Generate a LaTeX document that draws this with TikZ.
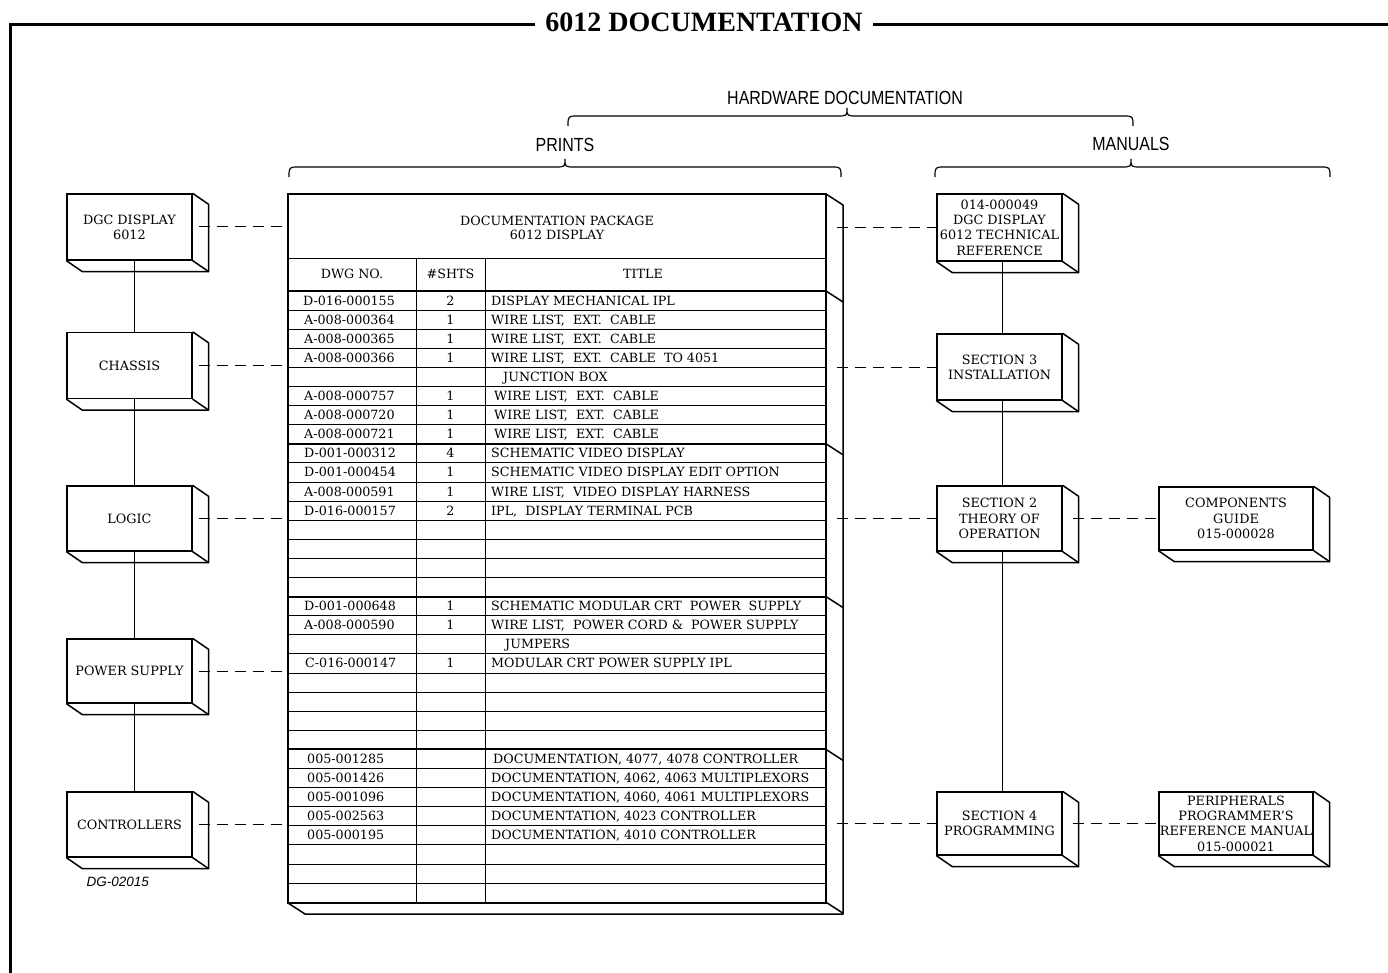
\documentclass[tikz,border=0pt]{standalone}
\usepackage{fontspec}
\usepackage{graphicx}
\setmainfont{DejaVu Serif}
\newfontfamily\ttlfont{Liberation Serif}
\newfontfamily\lblfont{Liberation Sans}
\usetikzlibrary{calc}
\newcommand\bxfont{\fontsize{12.8}{15.3}\selectfont}
\newcommand\tbfont{\fontsize{12.7}{14.5}\selectfont}
\newcommand\sansl[1]{\scalebox{0.84}[1]{\lblfont\fontsize{19}{21}\selectfont #1}}
\newcommand\depthbox[1]{%
  \draw[depthline] (#1.north east) -- ++(16,11) -- ($(#1.south east)+(16,11)$) -- ($(#1.south west)+(16,11)$) -- (#1.south west);
  \draw[depthline] (#1.south east) -- ++(16,11);}
\newcommand\trow[6]{%
  \node[tcell,anchor=west] (d#1) at (#2,{300.55+19.1*#1}) {#3};
  \node[tcell] (s#1) at (450.5,{300.55+19.1*#1}) {#4};
  \node[tcell,anchor=west] (t#1) at (#5,{300.55+19.1*#1}) {#6};}
\newcommand\hbrace[4]{%
  \draw[bracel] (#1,#4+10) .. controls (#1,#4) .. (#1+10,#4) -- (#2-10,#4) .. controls (#2,#4) .. (#2,#4-8) .. controls (#2,#4) .. (#2+10,#4) -- (#3-10,#4) .. controls (#3,#4) .. (#3,#4+10);}
\begin{document}
\begin{tikzpicture}[x=1pt,y=-1pt,
  tline/.style={line width=0.9pt},
  thickrow/.style={line width=2pt},
  depthline/.style={line width=1.5pt, line join=round},
  dbox/.style={draw, line width=1.3pt, inner sep=0pt, align=center, font=\bxfont},
  dashline/.style={line width=1pt, dash pattern=on 11pt off 7pt},
  conn/.style={line width=1pt},
  tcell/.style={inner sep=0pt, text height=9pt, text depth=0pt, font=\tbfont},
  bracel/.style={line width=1.2pt},
  frameline/.style={line width=3pt, line join=miter}]
\useasboundingbox (0,0) rectangle (1388,973);
\fill[white] (0,0) rectangle (1388,973);

% frame and title
\node (title) at (704,22) {\ttlfont\bfseries\fontsize{28}{30}\selectfont 6012 DOCUMENTATION};
\draw[frameline] (535,25) -- (10,25) -- (10,973);
\draw[frameline] (873,25) -- (1388,25);

% braces and labels
\node (hw) at (845,98) {\sansl{HARDWARE DOCUMENTATION}};
\hbrace{568}{847}{1133}{116}
\node (prints) at (565,145) {\sansl{PRINTS}};
\hbrace{289}{565}{841}{167}
\node (manuals) at (1131,144) {\sansl{MANUALS}};
\hbrace{935}{1131}{1330}{167}

% left boxes
\node[dbox, minimum width=125pt, minimum height=66pt] (dgc) at (129.5,227) {DGC DISPLAY\\6012};
\node[dbox, minimum width=125pt, minimum height=66pt] (chassis) at (129.5,365.5) {CHASSIS};
\node[dbox, minimum width=125pt, minimum height=65pt] (logic) at (129.5,518.5) {LOGIC};
\node[dbox, minimum width=125pt, minimum height=64pt] (psu) at (129.5,671) {POWER SUPPLY};
\node[dbox, minimum width=125pt, minimum height=65pt] (ctrl) at (129.5,824.5) {CONTROLLERS};
\foreach \n in {dgc,chassis,logic,psu,ctrl} {\depthbox{\n}}
\node[anchor=west] (dg) at (83,882) {\lblfont\itshape\fontsize{13.5}{15}\selectfont DG-02015};

% right boxes
\node[dbox, minimum width=125pt, minimum height=67pt] (m014) at (999.5,227.5) {014-000049\\DGC DISPLAY\\6012 TECHNICAL\\REFERENCE};
\node[dbox, minimum width=125pt, minimum height=66pt] (sec3) at (999.5,367) {SECTION 3\\INSTALLATION};
\node[dbox, minimum width=125pt, minimum height=65pt] (sec2) at (999.5,518.5) {SECTION 2\\THEORY OF\\OPERATION};
\node[dbox, minimum width=125pt, minimum height=63pt] (sec4) at (999.5,823.5) {SECTION 4\\PROGRAMMING};
\node[dbox, minimum width=154pt, minimum height=63pt] (comp) at (1236,518.5) {COMPONENTS\\GUIDE\\015-000028};
\node[dbox, minimum width=154pt, minimum height=63pt] (peri) at (1236,823.5) {PERIPHERALS\\PROGRAMMER'S\\REFERENCE MANUAL\\015-000021};
\foreach \n in {m014,sec3,sec2,sec4,comp,peri} {\depthbox{\n}}

% table
\node[draw, line width=1.3pt, minimum width=538pt, minimum height=709pt, inner sep=0pt] (tbl) at (557,548.5) {};
\node[align=center, font=\tbfont, inner sep=0pt] (pkg) at (557,228) {DOCUMENTATION PACKAGE\\6012 DISPLAY};
\draw[tline] (288,258) -- (826,258);
\foreach \k in {1,...,31} {\draw[tline] (288,{291+19.1*\k}) -- (826,{291+19.1*\k});}
\foreach \k in {0,8,16,24} {\draw[thickrow] (288,{291+19.1*\k}) -- (826,{291+19.1*\k});}
\draw[tline] (416,258) -- (416,903);
\draw[tline] (485,258) -- (485,903);
\draw[depthline] (826,194) -- (843,205) -- (843,914) -- (305,914) -- (288,903);
\foreach \k in {0,8,16,24,32} {\draw[depthline] (826,{291+19.1*\k}) -- (843,{302+19.1*\k});}
\node[tcell] (h1) at (352,274.5) {DWG NO.};
\node[tcell] (h2) at (450.5,274.5) {\#SHTS};
\node[tcell] (h3) at (643,274.5) {TITLE};

\trow{0}{303}{D-016-000155}{2}{491}{DISPLAY MECHANICAL IPL}
\trow{1}{304}{A-008-000364}{1}{491}{WIRE LIST,\ \ EXT.\ \ CABLE}
\trow{2}{304}{A-008-000365}{1}{491}{WIRE LIST,\ \ EXT.\ \ CABLE}
\trow{3}{304}{A-008-000366}{1}{491}{WIRE LIST,\ \ EXT.\ \ CABLE\ \ TO 4051}
\trow{4}{304}{}{}{503}{JUNCTION BOX}
\trow{5}{304}{A-008-000757}{1}{494}{WIRE LIST,\ \ EXT.\ \ CABLE}
\trow{6}{304}{A-008-000720}{1}{494}{WIRE LIST,\ \ EXT.\ \ CABLE}
\trow{7}{304}{A-008-000721}{1}{494}{WIRE LIST,\ \ EXT.\ \ CABLE}
\trow{8}{304}{D-001-000312}{4}{491}{SCHEMATIC VIDEO DISPLAY}
\trow{9}{304}{D-001-000454}{1}{491}{SCHEMATIC VIDEO DISPLAY EDIT OPTION}
\trow{10}{304}{A-008-000591}{1}{491}{WIRE LIST,\ \ VIDEO DISPLAY HARNESS}
\trow{11}{304}{D-016-000157}{2}{491}{IPL,\ \ DISPLAY TERMINAL PCB}
\trow{16}{304}{D-001-000648}{1}{491}{SCHEMATIC MODULAR CRT\ \ POWER\ \ SUPPLY}
\trow{17}{304}{A-008-000590}{1}{491}{WIRE LIST,\ \ POWER CORD \&\ \ POWER SUPPLY}
\trow{18}{304}{}{}{505}{JUMPERS}
\trow{19}{305}{C-016-000147}{1}{491}{MODULAR CRT POWER SUPPLY IPL}
\trow{24}{307}{005-001285}{}{493}{DOCUMENTATION,\ 4077,\ 4078 CONTROLLER}
\trow{25}{307}{005-001426}{}{491}{DOCUMENTATION,\ 4062,\ 4063 MULTIPLEXORS}
\trow{26}{307}{005-001096}{}{491}{DOCUMENTATION,\ 4060,\ 4061 MULTIPLEXORS}
\trow{27}{307}{005-002563}{}{491}{DOCUMENTATION,\ 4023 CONTROLLER}
\trow{28}{307}{005-000195}{}{491}{DOCUMENTATION,\ 4010 CONTROLLER}

% vertical connectors
\draw[conn] ([xshift=5pt]dgc.south) -- ([xshift=5pt]chassis.north);
\draw[conn] ([xshift=5pt]chassis.south) -- ([xshift=5pt]logic.north);
\draw[conn] ([xshift=5pt]logic.south) -- ([xshift=5pt]psu.north);
\draw[conn] ([xshift=5pt]psu.south) -- ([xshift=5pt]ctrl.north);
\draw[conn] ([xshift=2.5pt]m014.south) -- ([xshift=2.5pt]sec3.north);
\draw[conn] ([xshift=2.5pt]sec3.south) -- ([xshift=2.5pt]sec2.north);
\draw[conn] ([xshift=2.5pt]sec2.south) -- ([xshift=2.5pt]sec4.north);

% dashed connectors
\foreach \n in {dgc,chassis,logic,psu,ctrl} {\draw[dashline] ($(\n.east)+(6,0)$) -- (\n.east -| tbl.west);}
\foreach \n in {m014,sec3,sec2,sec4} {\draw[dashline] ($(tbl.east |- \n.west)+(10,0)$) -- (\n.west);}
\draw[dashline] ($(sec2.east)+(10,0)$) -- (comp.west);
\draw[dashline] ($(sec4.east)+(10,0)$) -- (peri.west);
\end{tikzpicture}
\end{document}
